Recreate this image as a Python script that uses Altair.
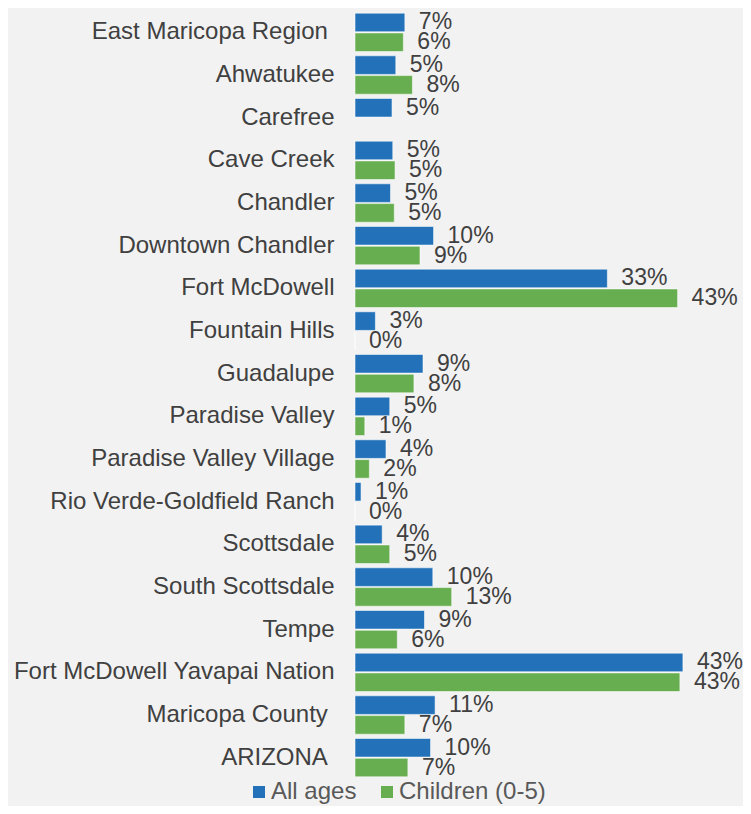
import altair as alt
import pandas as pd

# trailing non-breaking space + zero-width space keeps the Excel-style trailing gap
categories = [
    "East Maricopa Region\u00a0\u200b", "Ahwatukee", "Carefree", "Cave Creek", "Chandler",
    "Downtown Chandler", "Fort McDowell", "Fountain Hills", "Guadalupe",
    "Paradise Valley", "Paradise Valley Village", "Rio Verde-Goldfield Ranch",
    "Scottsdale", "South Scottsdale", "Tempe", "Fort McDowell Yavapai Nation",
    "Maricopa County\u00a0\u200b", "ARIZONA\u00a0\u200b",
]
series = ["All ages", "Children (0-5)"]
all_ages = [6.6, 5.4, 4.9, 5.0, 4.7, 10.4, 33.4, 2.7, 9.0, 4.6, 4.1, 0.8, 3.6, 10.3, 9.2, 43.4, 10.6, 10.0]
children = [6.4, 7.6, None, 5.3, 5.2, 8.6, 42.7, 0.0, 7.8, 1.3, 1.9, 0.0, 4.6, 12.8, 5.6, 43.0, 6.6, 7.0]

colors = ["#2271B9", "#67AE50"]
FONT = "Liberation Sans, Arial, sans-serif"

rows = []
for i, c in enumerate(categories):
    for s, vals in zip(series, [all_ages, children]):
        v = vals[i]
        if v is None:
            continue
        rows.append({"Region": c, "Series": s, "Value": v / 100.0})
df = pd.DataFrame(rows)

y_enc = alt.Y("Region:N", sort=categories, axis=alt.Axis(
    title=None, domain=False, ticks=False, labelPadding=21, labelLimit=500,
    labelFontSize=24, labelFont=FONT, labelColor="#404040"),
    scale=alt.Scale(paddingInner=0.1, paddingOuter=0.05))
yoff_enc = alt.YOffset("Series:N", sort=series,
                       scale=alt.Scale(paddingInner=0.06, paddingOuter=0))
x_enc = alt.X("Value:Q", axis=None, scale=alt.Scale(domain=[0, 0.45], nice=False))

base = alt.Chart(df)

bars = base.mark_bar(stroke="#FFFFFF", strokeOpacity=0.55, strokeWidth=1).encode(
    x=x_enc, y=y_enc, yOffset=yoff_enc,
    color=alt.Color("Series:N", sort=series,
                    scale=alt.Scale(domain=series, range=colors),
                    legend=alt.Legend(title=None, orient="none", direction="horizontal",
                                      legendX=-108, legendY=769, padding=0,
                                      symbolType="square", symbolSize=144,
                                      symbolStrokeWidth=0, labelFontSize=24,
                                      labelFont=FONT, labelColor="#595959",
                                      columnPadding=18, labelOffset=0)),
)

labels = base.mark_text(align="left", baseline="middle", dx=14, fontSize=23,
                        font=FONT, color="#404040").encode(
    x=x_enc, y=y_enc, yOffset=yoff_enc,
    text=alt.Text("Value:Q", format=".0%"),
)

chart = alt.layer(bars, labels).properties(
    width=340, height=768,
    autosize=alt.AutoSizeParams(type="none"),
    padding={"left": 347, "top": 3, "right": 48, "bottom": 27},
    background="#F2F2F2",
).configure_view(stroke=None)

chart.save("out.html", embed_options={"renderer": "svg", "actions": False})
